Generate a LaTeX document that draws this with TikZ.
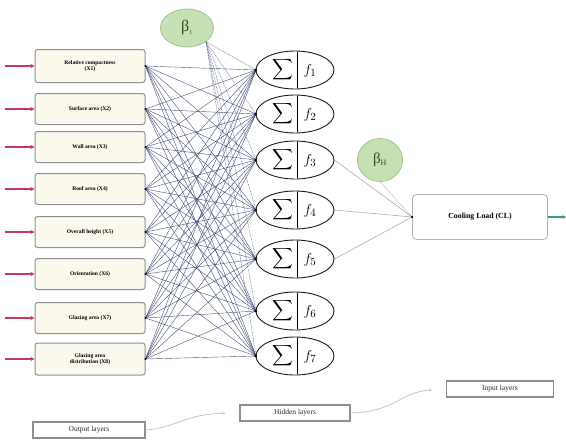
\documentclass[tikz,border=0pt]{standalone}
\usepackage{fontspec}
\setmainfont{Liberation Serif}
\usetikzlibrary{shapes.geometric,arrows.meta}
\definecolor{cream}{HTML}{FBF8EC}
\definecolor{boxgray}{HTML}{8E8E8E}
\definecolor{navy}{HTML}{2E3A68}
\definecolor{redarr}{HTML}{C8385A}
\definecolor{biasfill}{HTML}{C5E0B4}
\definecolor{biasdraw}{HTML}{A3C48A}
\definecolor{biastext}{HTML}{2E4A2E}
\definecolor{garrow}{HTML}{3A9A7A}
\tikzset{
  inbox/.style={draw=boxgray, fill=cream, rounded corners=2.5pt, line width=1pt,
    minimum width=110pt, minimum height=31pt, inner sep=1pt, align=center,
    font=\fontsize{5.6}{6.6}\selectfont\bfseries},
  hid/.style={ellipse, draw=black!90, line width=0.9pt, minimum width=78pt, minimum height=38pt, inner sep=0pt, fill=white},
  bias/.style={ellipse, draw=biasdraw, fill=biasfill, line width=0.8pt, text=biastext, inner sep=0pt},
  wire/.style={navy, line width=0.42pt, opacity=0.85},
  bwire/.style={navy!80, line width=0.5pt, dash pattern=on 0.8pt off 0.7pt, opacity=0.85},
  owire/.style={gray!70, line width=0.55pt},
  inarr/.style={redarr, line width=1.6pt, -{Stealth[length=4pt,width=4pt]}},
  legbox/.style={draw=boxgray, line width=1.1pt, inner sep=0pt, minimum height=16pt,
    font=\fontsize{7.5}{8}\selectfont, text=black!85},
  legarr/.style={gray!45, line width=0.8pt, -{Stealth[length=3pt,width=3pt]}},
  dotn/.style={circle, fill=black, inner sep=0pt, minimum size=3pt},
  sumtxt/.style={scale=1.45, inner sep=0pt},
  ftxt/.style={font=\fontsize{15}{16}\selectfont, inner sep=0pt},
}
\begin{document}
\begin{tikzpicture}[x=1pt,y=-1pt]
\useasboundingbox (0,0) rectangle (566,440);

% input boxes
\node[inbox, minimum height=33pt] (x1) at (90,66) {Relative compactness\\(X1)};
\node[inbox] (x2) at (90,109) {Surface area (X2)};
\node[inbox] (x3) at (90,147) {Wall area (X3)};
\node[inbox] (x4) at (90,189) {Roof area (X4)};
\node[inbox] (x5) at (90,232) {Overall height (X5)};
\node[inbox] (x6) at (90,274) {Orientation (X6)};
\node[inbox] (x7) at (90,318) {Glazing area (X7)};
\node[inbox, minimum height=32pt] (x8) at (90,359) {Glazing area\\distribution (X8)};

% red input arrows
\foreach \i/\y in {1/66,2/109,3/147,4/189,5/232,6/274,7/318,8/359}{
  \coordinate (r\i) at (5,\y);
  \draw[inarr] (r\i) -- (x\i.west);
}

% hidden ellipses positions
\foreach \j/\y in {1/70,2/114,3/160,4/210,5/259,6/311,7/356}{
  \coordinate (hc\j) at (295,\y);
}

% biases
\node[bias, minimum width=53pt, minimum height=38pt] (b1) at (187,28) {\fontsize{16}{16}\selectfont β\textsubscript{\fontsize{6}{6}\selectfont 1}};
\node[bias, minimum width=45pt, minimum height=43pt] (bh) at (380,160) {\fontsize{15}{15}\selectfont β\textsubscript{\fontsize{8}{8}\selectfont H}};

% wires input -> hidden
\foreach \i in {1,...,8}{
  \foreach \j in {1,...,7}{
    \draw[wire] (x\i.east) -- ([xshift=-39pt]hc\j);
  }
}
% bias wires
\foreach \j in {1,...,7}{
  \draw[bwire] (b1.south east) -- ([xshift=-39pt]hc\j);
}

% hidden nodes
\foreach \j in {1,...,7}{
  \node[hid] (h\j) at (hc\j) {};
  \node[sumtxt] at ([xshift=-12pt]h\j.center) {$\displaystyle\sum$};
  \draw[black, line width=1pt] ([xshift=2pt,yshift=-1.5pt]h\j.north) -- ([xshift=2pt,yshift=1.5pt]h\j.south);
  \node[ftxt] at ([xshift=15pt,yshift=-1pt]h\j.center) {$f_{\j}$};
  \node[dotn] at (h\j.west) {};
}
\foreach \i in {1,...,8}{
  \node[dotn, minimum size=2.2pt] at (x\i.east) {};
}

% output
\node[draw=gray!60, fill=white, rounded corners=4pt, line width=0.8pt, minimum width=135pt, minimum height=45pt,
  font=\fontsize{7.8}{8}\selectfont\bfseries] (cl) at (480,217) {Cooling Load (CL)};
\draw[owire] (h3.east) -- (cl.west);
\draw[owire] (h4.east) -- (cl.west);
\draw[owire] (h5.east) -- (cl.west);
\draw[bwire, gray!80] (bh.south) -- (cl.west);
\node[dotn, minimum size=2.5pt] at (cl.west) {};
\coordinate (gout) at (566,217);
\draw[garrow, line width=1.2pt, -{Stealth[length=3.5pt,width=3.5pt]}] (cl.east) -- (gout);

% legend
\node[legbox, minimum width=107pt] (inl) at (500,389) {Input layers};
\node[legbox, minimum width=110pt] (hidl) at (295,413) {Hidden layers};
\node[legbox, minimum width=112pt] (outl) at (89,430) {Output layers};
\draw[legarr, shorten >=14pt] (outl.east) .. controls (175,428) and (185,414) .. (hidl.west);
\draw[legarr, shorten >=14pt] (hidl.east) .. controls (395,412) and (400,392) .. (inl.west);
\end{tikzpicture}
\end{document}
